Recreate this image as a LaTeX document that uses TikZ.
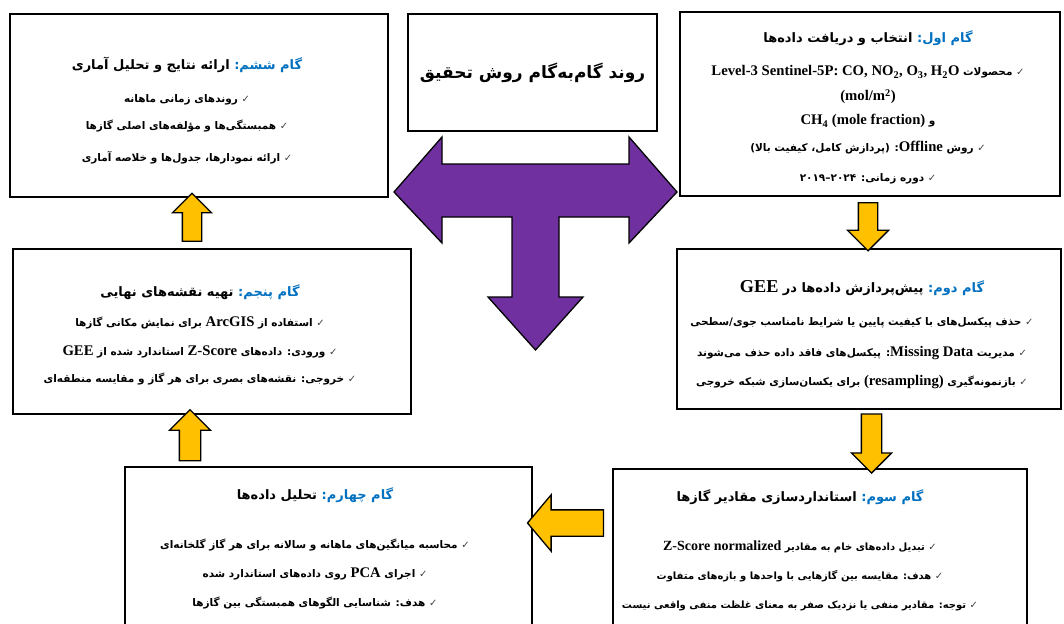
\documentclass[tikz,border=0pt]{standalone}
\usepackage{fontspec}
\setmainfont{Liberation Serif}[Scale=1.4]
\newfontfamily\fa[Script=Arabic]{DejaVu Sans}
\newfontfamily\sym{DejaVu Sans}
\usetikzlibrary{shapes.arrows}
\TeXXeTstate=1
\definecolor{stepblue}{RGB}{0,112,192}
\definecolor{teepurple}{RGB}{112,48,160}
\definecolor{flowyellow}{RGB}{255,192,0}
\newcommand\latn[1]{\beginL{\rmfamily\bfseries #1}\endL}
\newcommand\rl[1]{\beginR #1\endR}
\newcommand\chk{{\sym\mdseries\fontsize{10}{10}\selectfont\color{black!75}✓}}
\newcommand\bl[1]{\rl{#1}\ \chk}
\newcommand\hdl[2]{{\fontsize{13}{29}\selectfont\mbox{\rl{#2}}\ \mbox{{\color{stepblue}\rl{#1}}}}}
\newcommand\yr[1]{\mbox{#1}}

\begin{document}
\begin{tikzpicture}[x=1pt,y=-1pt,
    stepbox/.style={draw, line width=1.5pt, fill=white, inner sep=0pt},
    steptext/.style={align=center, inner sep=0pt, font=\fa\bfseries\fontsize{10.5}{29}\selectfont},
    flowarrow/.style={single arrow, draw, line width=1.3pt, fill=flowyellow, inner xsep=0pt},
    teearrow/.style={draw, line width=1.3pt, fill=teepurple, line join=miter}]
  \useasboundingbox (0,0) rectangle (1064,623);
  \clip (0,0) rectangle (1064,623);

  % boxes
  \node[stepbox, minimum width=380, minimum height=184] (s1) at (870,104) {};
  \node[stepbox, minimum width=384, minimum height=160] (s2) at (869,329) {};
  \node[stepbox, minimum width=414, minimum height=162] (s3) at (820,550) {};
  \node[stepbox, minimum width=407, minimum height=165] (s4) at (328.5,549.5) {};
  \node[stepbox, minimum width=398, minimum height=165] (s5) at (212,331.5) {};
  \node[stepbox, minimum width=378, minimum height=183] (s6) at (199,105.5) {};
  \node[stepbox, minimum width=249, minimum height=117,
        font=\fa\bfseries\fontsize{17}{20}\selectfont] (ttl) at (532.5,72.5)
        {\rl{روند گام^^^^200cبه^^^^200cگام روش تحقیق}};

  % T arrow
  \draw[teearrow] (394,192) -- (442,137) -- (442,164) -- (629,164) -- (629,137)
    -- (677,192) -- (629,243) -- (629,217) -- (559,217) -- (559,297) -- (583,297)
    -- (535.5,350) -- (488,297) -- (512,297) -- (512,217) -- (442,217) -- (442,243) -- cycle;

  % step arrows
  \node[flowarrow, rotate=-90, minimum height=48, inner ysep=9, single arrow head extend=11] (a12) at (868,222) {};
  \node[flowarrow, rotate=-90, minimum height=59, inner ysep=9.5, single arrow head extend=10] (a23) at (871.5,438.5) {};
  \node[flowarrow, rotate=180, minimum height=76, inner ysep=12.5, single arrow head extend=15,
        single arrow tip angle=100] (a34) at (571,523) {};
  \node[flowarrow, rotate=90, minimum height=51, inner ysep=10, single arrow head extend=10] (a45) at (190,440.5) {};
  \node[flowarrow, rotate=90, minimum height=48, inner ysep=9, single arrow head extend=10] (a56) at (192,222) {};

  % texts
  \node[steptext] (t1) at (868,107.5) {%
    \hdl{گام اول:}{انتخاب و دریافت داده^^^^200cها}\\[4pt]
    \bl{محصولات \latn{Level-3 Sentinel-5P: CO, NO\textsubscript{2}, O\textsubscript{3}, H\textsubscript{2}O}}\\[-4pt]
    \rl{\latn{(mol/m\textsuperscript{2})}}\\[-5pt]
    \rl{و \latn{CH\textsubscript{4} (mole fraction)}}\\[-2pt]
    \bl{روش \latn{Offline}: (پردازش کامل، کیفیت بالا)}\\[1pt]
    \bl{دوره زمانی: \beginL\yr{۲۰۱۹}\yr{–}\yr{۲۰۲۴}\endL}};
  \node[steptext] (t2) at (862,334.5) {%
    \hdl{گام دوم:}{پیش^^^^200cپردازش داده^^^^200cها در \latn{GEE}}\\[4pt]
    \bl{حذف پیکسل^^^^200cهای با کیفیت پایین یا شرایط نامناسب جوی/سطحی}\\[2pt]
    \bl{مدیریت \latn{Missing Data}: پیکسل^^^^200cهای فاقد داده حذف می^^^^200cشوند}\\
    \bl{بازنمونه^^^^200cگیری \latn{(resampling)} برای یکسان^^^^200cسازی شبکه خروجی}};
  \node[steptext, font=\fa\bfseries\fontsize{10}{29}\selectfont] (t3) at (800,550) {%
    \hdl{گام سوم:}{استانداردسازی مقادیر گازها}\\[20pt]
    \bl{تبدیل داده^^^^200cهای خام به مقادیر \latn{Z-Score normalized}}\\
    \bl{هدف: مقایسه بین گازهایی با واحدها و بازه^^^^200cهای متفاوت}\\
    \bl{توجه: مقادیر منفی یا نزدیک صفر به معنای غلظت منفی واقعی نیست}};
  \node[steptext] (t4) at (315,548.5) {%
    \hdl{گام چهارم:}{تحلیل داده^^^^200cها}\\[20pt]
    \bl{محاسبه میانگین^^^^200cهای ماهانه و سالانه برای هر گاز گلخانه^^^^200cای}\\
    \bl{اجرای \latn{PCA} روی داده^^^^200cهای استاندارد شده}\\
    \bl{هدف: شناسایی الگوهای همبستگی بین گازها}};
  \node[steptext] (t5) at (200,335) {%
    \hdl{گام پنجم:}{تهیه نقشه^^^^200cهای نهایی}\\[1pt]
    \bl{استفاده از \latn{ArcGIS} برای نمایش مکانی گازها}\\
    \bl{ورودی: داده^^^^200cهای \latn{Z-Score} استاندارد شده از \latn{GEE}}\\[-2pt]
    \bl{خروجی: نقشه^^^^200cهای بصری برای هر گاز و مقایسه منطقه^^^^200cای}};
  \node[steptext] (t6) at (187,111) {%
    \hdl{گام ششم:}{ارائه نتایج و تحلیل آماری}\\[4pt]
    \bl{روندهای زمانی ماهانه}\\[-2pt]
    \bl{همبستگی^^^^200cها و مؤلفه^^^^200cهای اصلی گازها}\\[3pt]
    \bl{ارائه نمودارها، جدول^^^^200cها و خلاصه آماری}};
\end{tikzpicture}
\end{document}
